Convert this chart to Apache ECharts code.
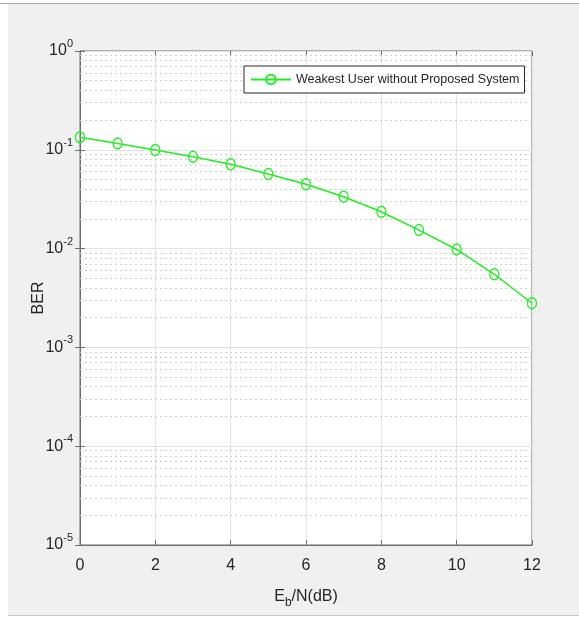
<!DOCTYPE html>
<html>
<head>
<meta charset="utf-8">
<script src="https://cdn.jsdelivr.net/npm/echarts@6/dist/echarts.min.js"></script>
<style>
  html, body { margin: 0; padding: 0; background: #fff; }
  #topline { position: absolute; left: 0; top: 3px; width: 579px; height: 1px; background: #a8a8a8; }
  #panel { position: absolute; left: 8px; top: 4px; width: 571px; height: 611px; background: #f0f0f0; border-bottom: 1px solid #c8c8c8; }
  #chart { position: absolute; left: 0; top: 0; width: 579px; height: 617px; }
</style>
</head>
<body>
<div id="topline"></div>
<div id="panel"></div>
<div id="chart"></div>
<script>
// Eb/N (dB) 横轴
const ebn0 = [0, 1, 2, 3, 4, 5, 6, 7, 8, 9, 10, 11, 12]
// 最弱用户误码率
const berWeakest = [0.134, 0.116, 0.0995, 0.085, 0.0713, 0.057, 0.0448, 0.0335, 0.0236, 0.0154, 0.0098, 0.0055, 0.0028]
const seriesName = 'Weakest User without Proposed System'
// 对数轴的十进位和次网格
const decades = [-5, -4, -3, -2, -1]
const minorMantissas = [2, 3, 4, 5, 6, 7, 8, 9]

const font = "'Liberation Sans Narrow', 'Liberation Sans', Arial, sans-serif"
const textColor = '#262626'
const boxColor = '#6e6e6e'
const green = '#22ee22'

// 次网格线（虚线），用坐标画满整个横轴
const minorLines = []
decades.forEach(d => {
    minorMantissas.forEach(m => {
        const v = m * Math.pow(10, d)
        minorLines.push([{ coord: [0, v] }, { coord: [12, v] }])
    })
})

const chart = echarts.init(document.getElementById('chart'))
const opt = {
    backgroundColor: 'transparent',
    animation: false,
    textStyle: { fontFamily: font },
    grid: {
        left: 80, top: 51, right: 47, bottom: 72,
        show: true,
        backgroundColor: '#fff',
        borderColor: boxColor,
        borderWidth: 1
    },
    legend: {
        left: 244, top: 66,
        backgroundColor: '#fff',
        borderColor: textColor,
        borderWidth: 1,
        borderRadius: 0,
        padding: [7, 5, 7, 6],
        itemWidth: 40,
        itemHeight: 12,
        textStyle: { fontFamily: font, fontSize: 12.5, color: textColor },
        data: [seriesName]
    },
    xAxis: [
        {
            type: 'value', min: 0, max: 12, interval: 2,
            name: '{e|E}{s|b}{e|/N(dB)}',
            nameLocation: 'middle', nameGap: 40,
            nameTextStyle: {
                rich: {
                    e: { fontFamily: font, fontSize: 16, color: textColor },
                    s: { fontFamily: font, fontSize: 12, color: textColor, padding: [12, 0, 0, 0] }
                }
            },
            axisLine: { lineStyle: { color: boxColor } },
            axisTick: { inside: true, length: 5, lineStyle: { color: boxColor } },
            axisLabel: { fontFamily: font, fontSize: 16, color: textColor, margin: 13 },
            splitLine: { show: true, lineStyle: { color: '#e3e3e3', width: 1 } }
        },
        {
            type: 'value', min: 0, max: 12, interval: 2, position: 'top',
            axisLine: { show: false },
            axisTick: { inside: true, length: 5, lineStyle: { color: boxColor } },
            axisLabel: { show: false },
            splitLine: { show: false }
        }
    ],
    yAxis: [
        {
            type: 'log', logBase: 10, min: 1e-5, max: 1,
            name: 'BER',
            nameLocation: 'middle', nameGap: 33,
            nameMoveOverlap: false,
            nameTextStyle: { fontFamily: 'Liberation Sans, Arial, sans-serif', fontSize: 16, color: textColor },
            axisLine: { show: true, lineStyle: { color: boxColor } },
            axisTick: { show: true, inside: true, length: 5, lineStyle: { color: boxColor } },
            axisLabel: {
                margin: 7,
                formatter: v => '{b|10}{s|' + Math.round(Math.log10(v)) + '}',
                rich: {
                    b: { fontFamily: font, fontSize: 16, color: textColor },
                    s: { fontFamily: font, fontSize: 11, color: textColor, padding: [0, 0, 14, 0] }
                }
            },
            splitLine: { show: true, lineStyle: { color: '#e3e3e3', width: 1 } }
        },
        {
            type: 'log', logBase: 10, min: 1e-5, max: 1, position: 'right',
            axisLine: { show: false },
            axisTick: { show: true, inside: true, length: 5, lineStyle: { color: boxColor } },
            axisLabel: { show: false },
            splitLine: { show: false }
        }
    ],
    series: [
        {
            name: seriesName,
            type: 'line',
            data: ebn0.map((x, i) => [x, berWeakest[i]]),
            symbol: 'circle',
            symbolSize: [9, 11],
            showAllSymbol: true,
            lineStyle: { color: green, width: 1.5 },
            itemStyle: { color: 'rgba(255,255,255,0)', borderColor: green, borderWidth: 1.3 },
            z: 5,
            markLine: {
                silent: true,
                symbol: ['none', 'none'],
                label: { show: false },
                lineStyle: { color: '#cfcfcf', type: [2, 3], width: 1 },
                data: minorLines,
                z: 1
            }
        }
    ]
}
chart.setOption(opt)
</script>
</body>
</html>
